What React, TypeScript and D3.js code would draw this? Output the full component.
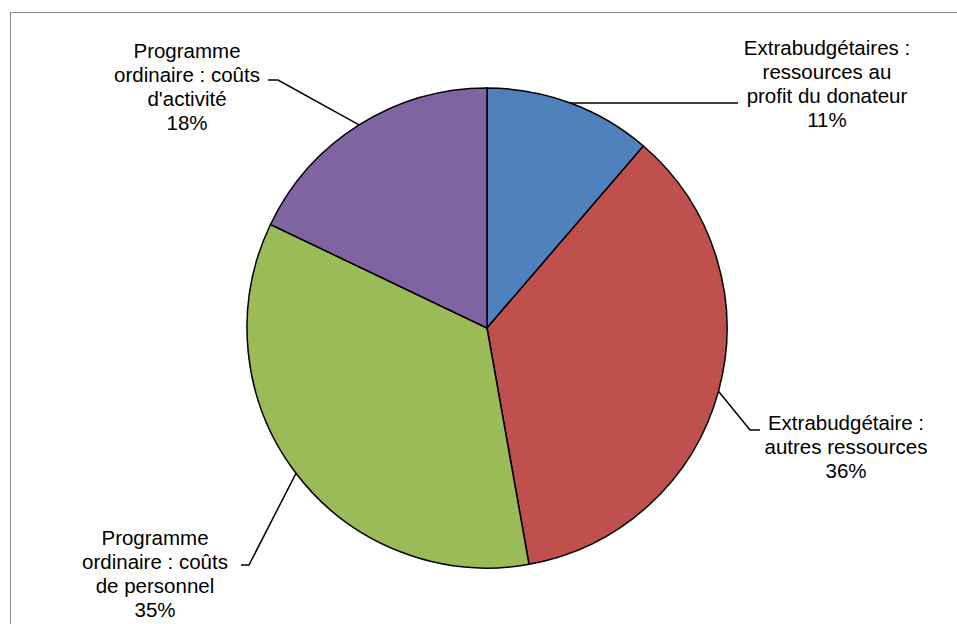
import React from "react";
import * as d3 from "d3";

const categories = [
  "Extrabudgétaires : ressources au profit du donateur",
  "Extrabudgétaire : autres ressources",
  "Programme ordinaire : coûts de personnel",
  "Programme ordinaire : coûts d'activité",
];
const values = [11.3, 35.9, 34.9, 17.9];
const colors = ["#4F81BD", "#C0504D", "#9BBB59", "#8064A2"];
const labelLines = [
  ["Extrabudgétaires :", "ressources au", "profit du donateur", "11%"],
  ["Extrabudgétaire :", "autres ressources", "36%"],
  ["Programme", "ordinaire : coûts", "de personnel", "35%"],
  ["Programme", "ordinaire : coûts", "d'activité", "18%"],
];

const W = 957;
const H = 624;
const cx = 487;
const cy = 328;
const R = 240;

// label layout (center x, first baseline y) and leader elbow points
const labelPos = [
  { x: 827, y: 55, elbow: [738, 103], end: [738, 103] },
  { x: 846, y: 430, elbow: [750, 430], end: [760, 430] },
  { x: 155, y: 545, elbow: [249, 565], end: [241, 565] },
  { x: 187, y: 58, elbow: [278, 80], end: [268, 80] },
];

export default function App() {
  const pie = d3.pie<number>().sort(null).value((d) => d)(values);
  const arc = d3.arc<d3.PieArcDatum<number>>().innerRadius(0).outerRadius(R);
  return (
    <svg width={W} height={H} style={{ position: "absolute", left: 0, top: 0 }}>
      <rect x={0} y={0} width={W} height={H} fill="#fff" />
      <rect x={10.5} y={12.5} width={W} height={H} fill="none" stroke="#868686" strokeWidth={1} />
      <g transform={`translate(${cx},${cy})`}>
        {pie.map((p, i) => (
          <path key={i} d={arc(p) || ""} fill={colors[i]} stroke="#000" strokeWidth={1.5} />
        ))}
      </g>
      {pie.map((p, i) => {
        const mid = (p.startAngle + p.endAngle) / 2;
        const px = cx + R * Math.sin(mid);
        const py = cy - R * Math.cos(mid);
        const lp = labelPos[i];
        return (
          <polyline
            key={"l" + i}
            points={`${px},${py} ${lp.elbow[0]},${lp.elbow[1]} ${lp.end[0]},${lp.end[1]}`}
            fill="none"
            stroke="#000"
            strokeWidth={1.5}
          />
        );
      })}
      {labelLines.map((lines, i) => (
        <text
          key={"t" + i}
          x={labelPos[i].x}
          y={labelPos[i].y}
          textAnchor="middle"
          fontFamily="'Liberation Sans', Arial, sans-serif"
          fontSize={20.5}
          fill="#000"
        >
          {lines.map((s, j) => (
            <tspan key={j} x={labelPos[i].x} y={labelPos[i].y + j * 24}>
              {s}
            </tspan>
          ))}
        </text>
      ))}
    </svg>
  );
}
